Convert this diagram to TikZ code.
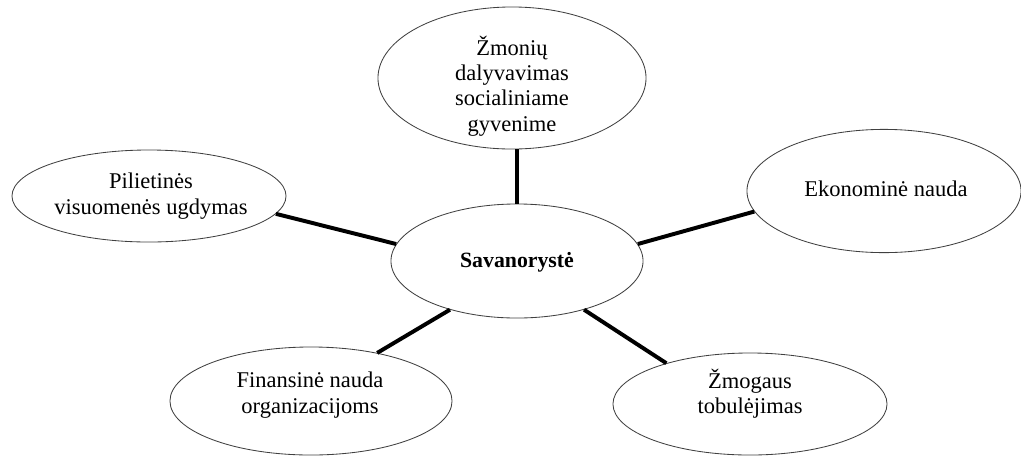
\documentclass[tikz,border=0pt]{standalone}
\usepackage{fontspec}
\setmainfont{Liberation Serif}
\usetikzlibrary{shapes.geometric}

\begin{document}
\begin{tikzpicture}[x=0.025cm, y=-0.025cm,
    font=\fontsize{16}{18}\selectfont,
    oval/.style={draw=black!75, line width=0.6pt, ellipse, inner sep=0pt},
    txt/.style={align=center, inner sep=0pt},
    link/.style={line width=2.8pt}]
    \useasboundingbox (0,0) rectangle (1021,456);
    % ellipses
    \node[oval, minimum width=6.7cm, minimum height=3.55cm] (zmon) at (512,78) {};
    \node[oval, minimum width=6.85cm, minimum height=2.3cm] (pil) at (149,196) {};
    \node[oval, minimum width=6.85cm, minimum height=3.08cm] (eko) at (884,191) {};
    \node[oval, minimum width=6.3cm, minimum height=2.85cm] (sav) at (517,261) {};
    \node[oval, minimum width=7.05cm, minimum height=2.7cm] (fin) at (311,401) {};
    \node[oval, minimum width=6.85cm, minimum height=2.55cm] (tob) at (750,404) {};
    % texts
    \node[txt] (zmon-t) at (512,86) {Žmonių\\dalyvavimas\\socialiniame\\gyvenime};
    \node[txt] (pil-t) at (151,196) {Pilietinės\\visuomenės ugdymas};
    \node[txt] (eko-t) at (886,189) {Ekonominė nauda};
    \node[txt, font=\fontsize{15.5}{18}\selectfont\bfseries] (sav-t) at (517,262) {Savanorystė};
    \node[txt] (fin-t) at (310,395) {Finansinė nauda\\organizacijoms};
    \node[txt] (tob-t) at (750,394) {Žmogaus\\tobulėjimas};
    % links
    \draw[link] (sav.north) -- (sav.north |- zmon.south);
    \draw[link] (sav.172) -- (pil.-8);
    \draw[link] (sav.8) -- (eko.-171);
    \draw[link] (sav.216) -- (fin.36);
    \draw[link] (sav.-36) -- (tob.154);
\end{tikzpicture}
\end{document}
